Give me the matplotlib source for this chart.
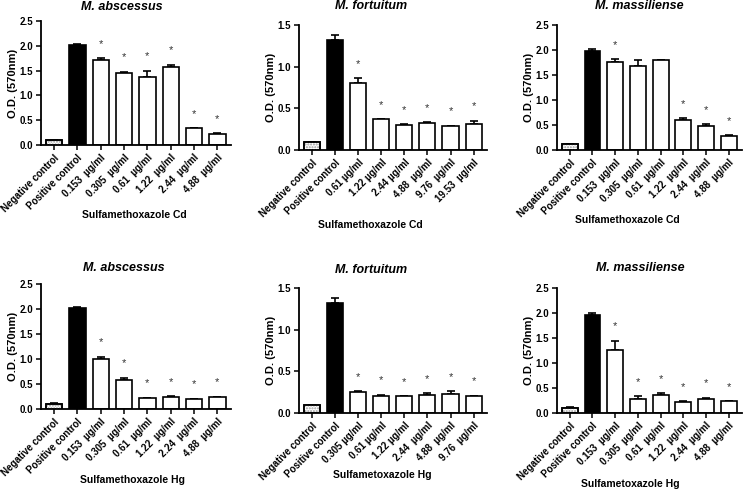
import matplotlib
matplotlib.use("Agg")
import matplotlib.pyplot as plt
import numpy as np

plt.rcParams["font.family"] = ["Liberation Sans", "DejaVu Sans"]

# one entry per panel, top row (Cd) then bottom row (Hg)
titles = ["M. abscessus", "M. fortuitum", "M. massiliense",
          "M. abscessus", "M. fortuitum", "M. massiliense"]
xlabels = ["Sulfamethoxazole Cd", "Sulfamethoxazole Cd", "Sulfamethoxazole Cd",
           "Sulfamethoxazole Hg", "Sulfametoxazole Hg", "Sulfametoxazole Hg"]

cats_abs_cd = ["Negative control", "Positive control", "0.153  µg/ml", "0.305  µg/ml",
               "0.61  µg/ml", "1.22  µg/ml", "2.44  µg/ml", "4.88  µg/ml"]
cats_for_cd = ["Negative control", "Positive control", "0.61 µg/ml", "1.22 µg/ml",
               "2.44 µg/ml", "4.88  µg/ml", "9.76  µg/ml", "19.53  µg/ml"]
cats_mas_cd = ["Negative control", "Positive control", "0.153  µg/ml", "0.305  µg/ml",
               "0.61  µg/ml", "1.22  µg/ml", "2.44  µg/ml", "4.88  µg/ml"]
cats_abs_hg = ["Negative control", "Positive control", "0.153  µg/ml", "0.305  µg/ml",
               "0.61  µg/ml", "1.22  µg/ml", "2.24  µg/ml", "4.88  µg/ml"]
cats_for_hg = ["Negative control", "Positive control", "0.305 µg/ml", "0.61 µg/ml",
               "1.22 µg/ml", "2.44  µg/ml", "4.88  µg/ml", "9.76  µg/ml"]
cats_mas_hg = ["Negative control", "Positive control", "0.153  µg/ml", "0.305  µg/ml",
               "0.61  µg/ml", "1.22  µg/ml", "2.44  µg/ml", "4.88  µg/ml"]

vals_abs_cd = [0.10, 2.02, 1.72, 1.46, 1.38, 1.58, 0.34, 0.23]
errs_abs_cd = [0.01, 0.01, 0.03, 0.02, 0.12, 0.04, 0.00, 0.01]
vals_for_cd = [0.10, 1.32, 0.80, 0.37, 0.30, 0.32, 0.29, 0.31]
errs_for_cd = [0.00, 0.06, 0.06, 0.00, 0.01, 0.01, 0.00, 0.04]
vals_mas_cd = [0.11, 1.97, 1.75, 1.67, 1.80, 0.59, 0.47, 0.28]
errs_mas_cd = [0.01, 0.04, 0.07, 0.13, 0.00, 0.04, 0.04, 0.01]
vals_abs_hg = [0.11, 2.03, 1.00, 0.58, 0.23, 0.25, 0.21, 0.25]
errs_abs_hg = [0.01, 0.01, 0.05, 0.05, 0.00, 0.01, 0.00, 0.00]
vals_for_hg = [0.10, 1.32, 0.25, 0.205, 0.20, 0.22, 0.23, 0.21]
errs_for_hg = [0.00, 0.06, 0.01, 0.015, 0.00, 0.015, 0.03, 0.00]
vals_mas_hg = [0.11, 1.96, 1.26, 0.29, 0.37, 0.23, 0.29, 0.24]
errs_mas_hg = [0.01, 0.04, 0.19, 0.05, 0.03, 0.01, 0.02, 0.00]

stars_abs_cd = [False, False, True, True, True, True, True, True]
stars_for_cd = [False, False, True, True, True, True, True, True]
stars_mas_cd = [False, False, True, False, False, True, True, True]
stars_abs_hg = [False, False, True, True, True, True, True, True]
stars_for_hg = [False, False, True, True, True, True, True, True]
stars_mas_hg = [False, False, True, True, True, True, True, True]

ymaxes = [2.5, 1.5, 2.5, 2.5, 1.5, 2.5]

panels = [
    (cats_abs_cd, vals_abs_cd, errs_abs_cd, stars_abs_cd),
    (cats_for_cd, vals_for_cd, errs_for_cd, stars_for_cd),
    (cats_mas_cd, vals_mas_cd, errs_mas_cd, stars_mas_cd),
    (cats_abs_hg, vals_abs_hg, errs_abs_hg, stars_abs_hg),
    (cats_for_hg, vals_for_hg, errs_for_hg, stars_for_hg),
    (cats_mas_hg, vals_mas_hg, errs_mas_hg, stars_mas_hg),
]

W, H = 744, 490

# axes boxes in pixels: left, top, right, bottom (from the top-left corner)
boxes = [
    (41, 21, 231, 145),
    (299, 25, 487, 150),
    (557, 25, 742, 150),
    (41, 284, 231, 409),
    (299, 288, 487, 413),
    (557, 288, 742, 413),
]
# title and x-label centres in pixels
title_pos = [(122, 7), (371, 6), (639, 6), (124, 268), (371, 270), (640, 268)]
xlabel_pos = [(134, 215), (370, 225), (627, 220), (133, 480), (382, 475), (630, 484)]

fig = plt.figure(figsize=(W / 100, H / 100), dpi=100)

for n in range(6):
    cats, vals, errs, stars = panels[n]
    ymax = ymaxes[n]
    l, t, r, b = boxes[n]
    ax = fig.add_axes([l / W, 1 - b / H, (r - l) / W, (b - t) / H])
    x = np.arange(len(cats))
    w = 0.7

    colors = ["white", "black"] + ["white"] * (len(cats) - 2)
    ax.bar(x, vals, width=w, color=colors, edgecolor="black", linewidth=1.2, zorder=2)
    # dotted fill on the negative control
    ax.bar(x[0], vals[0], width=w, color="none", edgecolor="#9a9a9a",
           hatch="......", linewidth=0, zorder=3)
    ax.bar(x[0], vals[0], width=w, color="none", edgecolor="black", linewidth=1.2, zorder=4)

    ax.errorbar(x, vals, yerr=[np.zeros(len(errs)), errs], fmt="none",
                ecolor="black", elinewidth=1.2, capsize=3.2, capthick=1.2, zorder=1)

    for i in range(len(cats)):
        if stars[i]:
            ax.text(x[i], vals[i] + errs[i] + ymax * 0.115, "*", ha="center", va="center",
                    fontsize=8, color="#333333")

    ax.set_xlim(-0.56, len(cats) - 0.42)
    ax.set_ylim(0, ymax)
    yt = np.arange(0, ymax + 0.01, 0.5)
    ax.set_yticks(yt)
    ax.set_yticklabels([f"{v:.1f}" for v in yt], fontsize=7, fontweight="bold")
    ax.set_xticks(x)
    ax.set_xticklabels(cats, rotation=45, ha="right", rotation_mode="anchor",
                       fontsize=7, fontweight="bold")
    ax.tick_params(axis="both", direction="out", length=3.5, width=1.1, pad=2)

    for s in ["top", "right"]:
        ax.spines[s].set_visible(False)
    for s in ["left", "bottom"]:
        ax.spines[s].set_linewidth(1.3)

    ax.set_ylabel("O.D. (570nm)", fontsize=8, fontweight="bold", labelpad=1)

    tx, ty = title_pos[n]
    fig.text(tx / W, 1 - ty / H, titles[n], ha="center", va="center",
             fontsize=9, fontweight="bold", style="italic")
    lx, ly = xlabel_pos[n]
    fig.text(lx / W, 1 - ly / H, xlabels[n], ha="center", va="center",
             fontsize=7.5, fontweight="bold")

fig.savefig("out.png", dpi=100)
